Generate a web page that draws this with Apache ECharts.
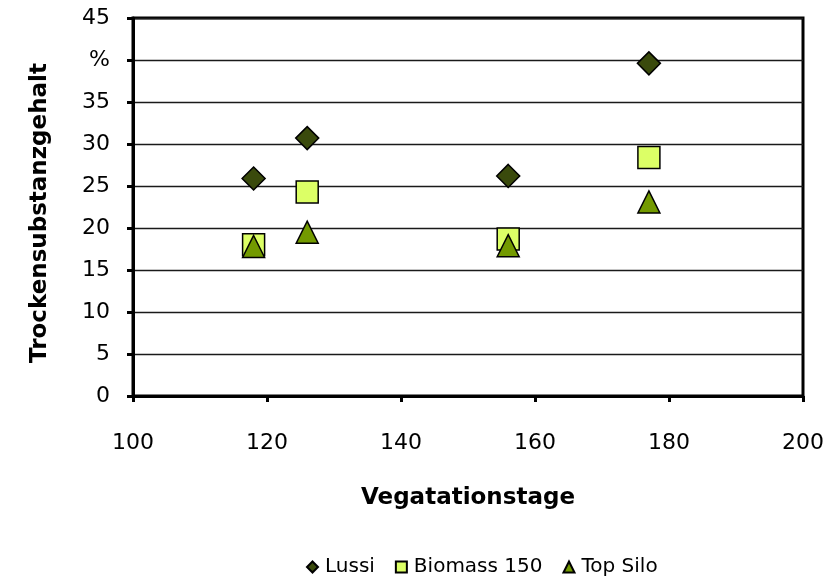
<!DOCTYPE html>
<html>
<head>
<meta charset="utf-8">
<script src="https://cdn.jsdelivr.net/npm/echarts@6/dist/echarts.min.js"></script>
<style>
  html, body { margin: 0; padding: 0; background: #fff; }
  #chart { width: 829px; height: 583px; }
</style>
</head>
<body>
<div id="chart"></div>
<script>
// x = Vegetationstage
const days = [118, 126, 156, 177]
const lussi = [25.9, 30.7, 26.2, 39.6]
const biomass150 = [18.0, 24.3, 18.7, 28.4]
const topSilo = [17.8, 19.5, 17.9, 23.1]
// y tick labels, the 40 line carries the unit
const yTickLabels = ['0', '5', '10', '15', '20', '25', '30', '35', '%', '45']

const font = 'DejaVu Sans'

function pairs(vals) {
  return days.map((d, i) => [d, vals[i]])
}

let myChart = echarts.init(document.getElementById('chart'))
let option = {
  backgroundColor: '#fff',
  animation: false,
  grid: {
    left: 133, right: 26, top: 18, bottom: 187,
    show: true,
    borderColor: '#000',
    borderWidth: 3
  },
  legend: {
    bottom: 1,
    left: 301,
    itemWidth: 11,
    itemHeight: 11,
    itemGap: 20,
    textStyle: { fontFamily: font, fontSize: 20, color: '#000', padding: [0, 0, 0, 2] },
    data: ['Lussi', 'Biomass 150', 'Top Silo']
  },
  xAxis: {
    type: 'value',
    min: 100, max: 200, interval: 20,
    name: 'Vegatationstage',
    nameLocation: 'middle',
    nameGap: 91,
    nameTextStyle: { fontFamily: font, fontSize: 23, fontWeight: 'bold', color: '#000' },
    axisLine: { show: true, lineStyle: { color: '#000', width: 3 } },
    axisTick: { show: true, length: 6, lineStyle: { color: '#000', width: 3 } },
    axisLabel: { fontFamily: font, fontSize: 22, color: '#000', margin: 36 },
    splitLine: { show: false }
  },
  yAxis: {
    type: 'value',
    min: 0, max: 45, interval: 5,
    name: 'Trockensubstanzgehalt',
    nameLocation: 'middle',
    nameGap: 81,
    nameTextStyle: { fontFamily: font, fontSize: 23, fontWeight: 'bold', color: '#000', padding: [0, 12, 0, 0] },
    axisLine: { show: true, lineStyle: { color: '#000', width: 3 } },
    axisTick: { show: true, length: 6, lineStyle: { color: '#000', width: 3 } },
    axisLabel: {
      fontFamily: font, fontSize: 22, color: '#000', margin: 23,
      formatter: v => yTickLabels[Math.round(v / 5)]
    },
    splitLine: { show: true, lineStyle: { color: '#1a1a1a', width: 1.3 } }
  },
  series: [
    {
      name: 'Lussi',
      type: 'scatter',
      symbol: 'diamond',
      symbolSize: 23,
      data: pairs(lussi),
      itemStyle: { color: '#3a4a0c', borderColor: '#000', borderWidth: 1.5, opacity: 1 }
    },
    {
      name: 'Biomass 150',
      type: 'scatter',
      symbol: 'rect',
      symbolSize: 22,
      data: pairs(biomass150),
      itemStyle: { color: '#dcff66', borderColor: '#000', borderWidth: 1.5, opacity: 1 }
    },
    {
      name: 'Top Silo',
      type: 'scatter',
      symbol: 'triangle',
      symbolSize: 22,
      data: pairs(topSilo),
      itemStyle: { color: '#739a00', borderColor: '#000', borderWidth: 1.5, opacity: 1 }
    }
  ]
}
myChart.setOption(option)
</script>
</body>
</html>
